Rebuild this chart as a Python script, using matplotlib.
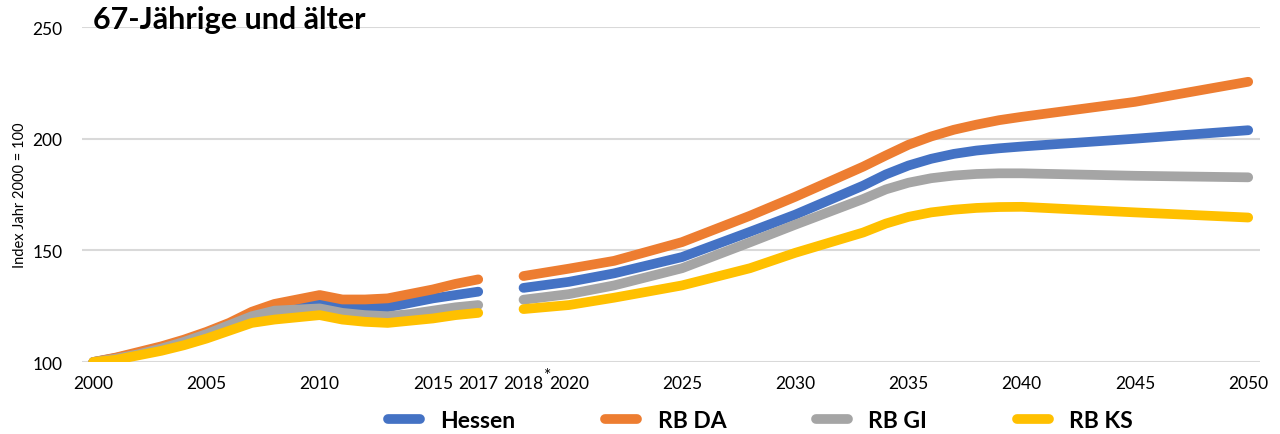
import numpy as np
import matplotlib.pyplot as plt

# index values (2000 = 100)
years_hist = np.arange(2000, 2018)
hessen_hist = [100, 101.8, 104, 106.5, 109.5, 113, 117, 121, 123.5, 124.5, 126, 124.5, 124.5, 124.5, 126.5, 128.5, 130, 131.5]
rbda_hist = [100, 102, 104.5, 107, 110, 113.5, 117.5, 122.5, 126, 128, 130, 128, 128, 128.5, 130.5, 132.5, 135, 137]
rbgi_hist = [100, 101.5, 103.5, 106, 109, 112.5, 116.5, 120.5, 123, 123.5, 124, 122, 121, 120.5, 121.5, 123, 124.5, 125.5]
rbks_hist = [100, 101, 103, 105, 107.5, 110.5, 114, 117.5, 119, 120, 121, 119, 118, 117.5, 118.5, 119.5, 121, 122]

years_proj = np.array([2018, 2020, 2022, 2025, 2028, 2030, 2033, 2034, 2035, 2036, 2037, 2038, 2039, 2040, 2045, 2050])
hessen_proj = [133.2, 135.9, 139.7, 147, 158.3, 166, 179, 184, 188, 191, 193.2, 194.7, 195.7, 196.5, 200, 203.8]
rbda_proj = [138.5, 141.8, 145.3, 153.7, 165.5, 174, 187.5, 192.5, 197.3, 201, 204, 206.3, 208.3, 209.8, 216.5, 225.5]
rbgi_proj = [127.9, 130.4, 134.3, 142, 153.6, 161.5, 173, 177.3, 180.3, 182.3, 183.5, 184.2, 184.5, 184.5, 183.4, 182.7]
rbks_proj = [123.7, 125.5, 128.8, 134.3, 142, 148.9, 158, 162, 165, 167, 168.2, 169, 169.4, 169.5, 167, 164.7]

series = ['Hessen', 'RB DA', 'RB GI', 'RB KS']
colors = ['#4472C4', '#ED7D31', '#A5A5A5', '#FFC000']
hist = [hessen_hist, rbda_hist, rbgi_hist, rbks_hist]
proj = [hessen_proj, rbda_proj, rbgi_proj, rbks_proj]

tick_years = np.array([2000, 2005, 2010, 2015, 2017, 2018, 2020, 2025, 2030, 2035, 2040, 2045, 2050])


def slot(y):
    # category axis: one empty category between 2017 and 2018
    y = np.asarray(y)
    return np.where(y <= 2017, y - 2000, y - 1999)


plt.rcParams['font.family'] = ['Lato', 'DejaVu Sans']

fig = plt.figure(figsize=(12.8, 4.35), dpi=100)
ax = fig.add_axes([0.064, 0.1655, 0.92, 0.77])

for name, c, h, p in zip(series, colors, hist, proj):
    ax.plot(slot(years_hist), h, color=c, lw=7, solid_capstyle='round', solid_joinstyle='round', label=name)
    ax.plot(slot(years_proj), p, color=c, lw=7, solid_capstyle='round', solid_joinstyle='round')

ax.set_xlim(-0.5, 51.5)
ax.set_ylim(100, 250)
ax.set_yticks([100, 150, 200, 250])
ax.set_xticks(slot(tick_years))
ax.set_xticklabels([str(y) for y in tick_years])
ax.tick_params(axis='both', length=0, labelsize=12.5, colors='black')
ax.tick_params(axis='y', pad=14)
ax.tick_params(axis='x', pad=9)
ax.grid(axis='y', color='#D9D9D9', lw=1.5)
ax.set_axisbelow(True)
for s in ax.spines.values():
    s.set_visible(False)

ax.set_ylabel('Index Jahr 2000 = 100', fontsize=10.5, labelpad=4)

# asterisk on the 2018 label
ax.annotate('*', xy=(slot(2018), 0), xycoords=('data', 'axes fraction'),
            xytext=(24, -13), textcoords='offset pixels', ha='center', va='center', fontsize=12.5)

fig.text(0.0727, 0.955, '67-Jährige und älter', fontsize=22, fontweight='bold', va='center', ha='left')

fig.legend(loc='center', bbox_to_anchor=(0.594, 0.03), ncol=4, frameon=False,
           prop={'weight': 'bold', 'size': 16.5}, handlelength=1.4, handletextpad=0.9,
           columnspacing=3.9)

fig.savefig('out.png', dpi=100)
